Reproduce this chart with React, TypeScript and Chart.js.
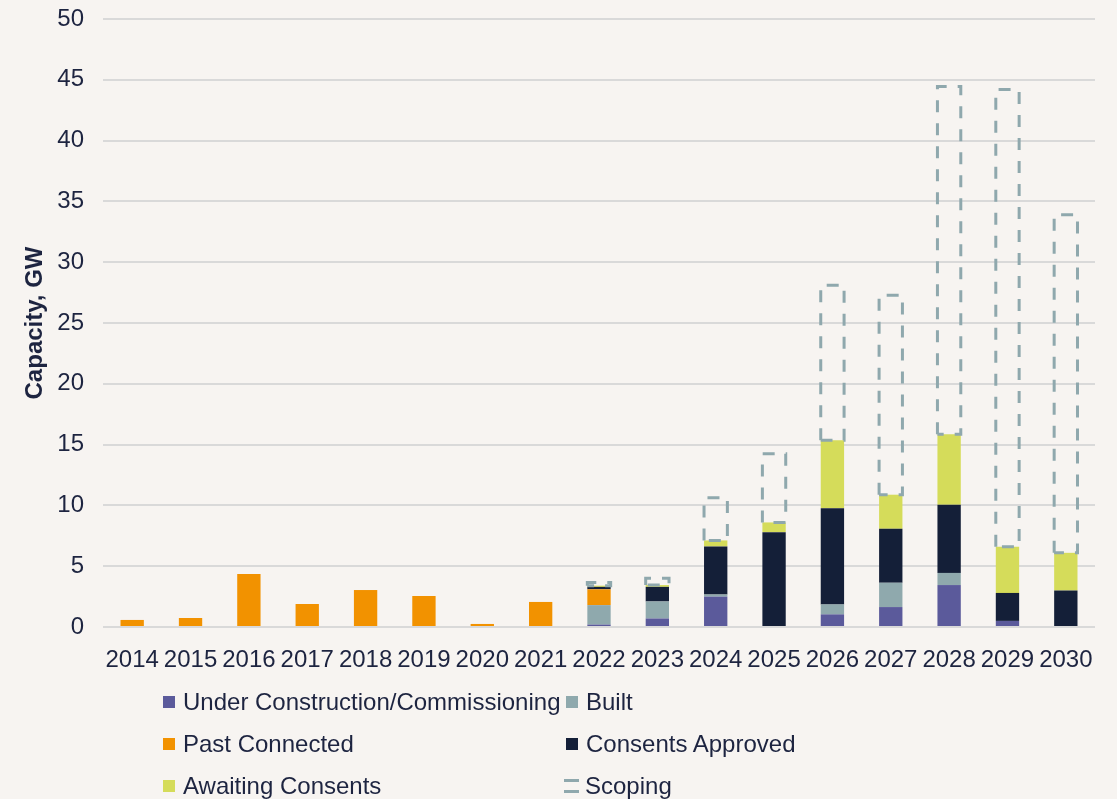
import React, { useEffect, useRef } from "react";
import { Chart, registerables } from "chart.js";

Chart.register(...registerables);

const years = ["2014", "2015", "2016", "2017", "2018", "2019", "2020", "2021", "2022", "2023", "2024", "2025", "2026", "2027", "2028", "2029", "2030"];
const underConstruction = [null, null, null, null, null, null, null, null, 0.2, 0.7, 2.5, null, 1.04, 1.64, 3.45, 0.5, null];
const built = [null, null, null, null, null, null, null, null, 1.6, 1.4, 0.17, null, 0.82, 2.0, 1.0, null, null];
const pastConnected = [0.58, 0.74, 4.36, 1.89, 3.04, 2.55, 0.25, 2.06, 1.3, null, null, null, null, null, null, null, null];
const consentsApproved = [null, null, null, null, null, null, null, null, 0.2, 1.2, 3.95, 7.8, 7.9, 4.44, 5.6, 2.3, 3.0];
const awaitingConsents = [null, null, null, null, null, null, null, null, 0.1, 0.15, 0.5, 0.8, 5.6, 2.8, 5.8, 3.8, 3.1];
const scoping = [null, null, null, null, null, null, null, null, 0.25, 0.55, 3.5, 5.65, 12.75, 16.4, 28.6, 37.6, 27.8];
const yTicks = [0, 5, 10, 15, 20, 25, 30, 35, 40, 45, 50];

const TEXT = "#1D2440";
const SCOPE = "#8FA8AD";
const FONT = "'Liberation Sans', Arial, sans-serif";

const legendItems = [
  { label: "Under Construction/Commissioning", color: "#5B5A9B", x: 163, y: 702 },
  { label: "Built", color: "#8FA9AD", x: 566, y: 702 },
  { label: "Past Connected", color: "#F29200", x: 163, y: 744 },
  { label: "Consents Approved", color: "#141F38", x: 566, y: 744 },
  { label: "Awaiting Consents", color: "#D5DC5A", x: 163, y: 786 },
  { label: "Scoping", color: null, x: 564, y: 786 },
];

const scopingPlugin = {
  id: "scopingBoxes",
  afterDatasetsDraw(chart: any) {
    const idx = chart.data.datasets.findIndex((d: any) => d.label === "Scoping");
    if (idx < 0) return;
    const meta = chart.getDatasetMeta(idx);
    const ctx = chart.ctx;
    ctx.save();
    ctx.strokeStyle = SCOPE;
    ctx.lineWidth = 3;
    ctx.setLineDash([12, 11]);
    meta.data.forEach((el: any, i: number) => {
      const v = chart.data.datasets[idx].data[i];
      if (v == null || v === 0) return;
      const p = el.getProps(["x", "y", "base", "width"], true);
      const l = p.x - p.width / 2;
      const r = p.x + p.width / 2;
      ctx.beginPath();
      ctx.moveTo(l, p.base);
      ctx.lineTo(l, p.y);
      ctx.lineTo(r, p.y);
      ctx.lineTo(r, p.base);
      ctx.lineTo(l, p.base);
      ctx.stroke();
    });
    ctx.restore();
  },
};

export default function App() {
  const ref = useRef<HTMLCanvasElement>(null);
  useEffect(() => {
    if (!ref.current) return;
    const mk = (label: string, data: any[], color: string) => ({
      label,
      data,
      backgroundColor: color,
      borderWidth: 0,
      stack: "s",
      barPercentage: 0.4,
      categoryPercentage: 1,
    });
    const chart = new Chart(ref.current, {
      type: "bar",
      data: {
        labels: years,
        datasets: [
          mk("Under Construction/Commissioning", underConstruction, "#5B5A9B"),
          mk("Built", built, "#8FA9AD"),
          mk("Past Connected", pastConnected, "#F29200"),
          mk("Consents Approved", consentsApproved, "#141F38"),
          mk("Awaiting Consents", awaitingConsents, "#D5DC5A"),
          mk("Scoping", scoping, "rgba(0,0,0,0)"),
        ],
      },
      options: {
        animation: false,
        responsive: false,
        layout: { padding: { top: 19, right: 22, bottom: 132, left: 0 } },
        plugins: { legend: { display: false }, tooltip: { enabled: false } },
        scales: {
          x: {
            stacked: true,
            grid: { display: false },
            border: { display: false },
            ticks: {
              color: TEXT,
              font: { family: FONT, size: 24 },
              padding: 11,
              autoSkip: false,
              maxRotation: 0,
            },
            afterFit: (s: any) => {
              s.height = 40;
              s.paddingLeft = 0;
              s.paddingRight = 0;
            },
          },
          y: {
            stacked: true,
            min: 0,
            max: 50,
            grid: { color: "#D9D9D9", lineWidth: 2, drawTicks: false },
            border: { display: false },
            ticks: {
              color: TEXT,
              font: { family: FONT, size: 24 },
              padding: 19,
            },
            afterBuildTicks: (s: any) => {
              s.ticks = yTicks.map((v) => ({ value: v }));
            },
            afterFit: (s: any) => {
              s.width = 103;
              s.paddingTop = 0;
              s.paddingBottom = 0;
            },
            title: {
              display: true,
              text: "Capacity, GW",
              color: TEXT,
              font: { family: FONT, size: 24, weight: "bold" },
              padding: { top: 21, bottom: 0 },
            },
          },
        },
      },
      plugins: [scopingPlugin],
    });
    return () => chart.destroy();
  }, []);

  return (
    <div style={{ position: "fixed", left: 0, top: 0, width: 1117, height: 799, background: "#F7F4F1", overflow: "hidden" }}>
      <canvas ref={ref} width={1117} height={799} style={{ position: "absolute", left: 0, top: 0, width: 1117, height: 799 }} />
      {legendItems.map((it) => (
        <div
          key={it.label}
          style={{
            position: "absolute",
            left: it.x,
            top: it.y - 16,
            height: 32,
            display: "flex",
            alignItems: "center",
            fontFamily: FONT,
            fontSize: 24,
            color: TEXT,
            whiteSpace: "nowrap",
          }}
        >
          {it.color ? (
            <span style={{ display: "inline-block", width: 12, height: 12, background: it.color, marginRight: 8 }} />
          ) : (
            <span style={{ display: "inline-block", width: 15, height: 8, borderTop: `3px solid ${SCOPE}`, borderBottom: `3px solid ${SCOPE}`, marginRight: 6 }} />
          )}
          <span>{it.label}</span>
        </div>
      ))}
    </div>
  );
}
